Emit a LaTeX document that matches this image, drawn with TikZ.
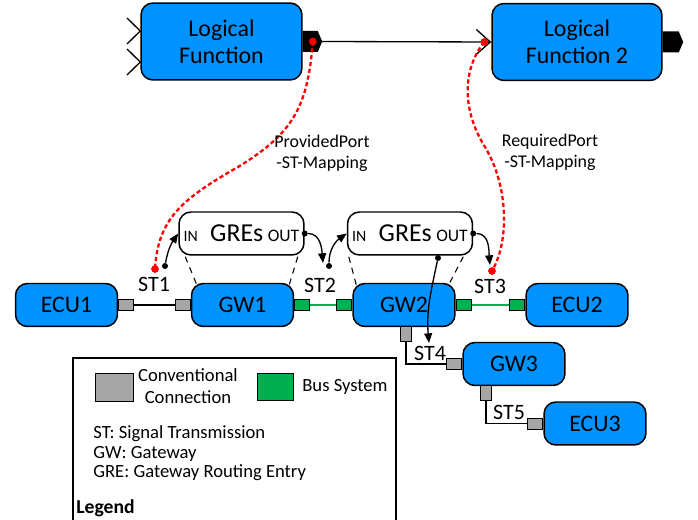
\documentclass[tikz,border=0pt]{standalone}
\usepackage{fontspec}
\setmainfont{Carlito}
\usetikzlibrary{arrows.meta}
\usetikzlibrary{calc}
\definecolor{fnblue}{RGB}{0,146,255}
\definecolor{busgreen}{RGB}{0,176,80}
\definecolor{convgray}{RGB}{166,166,166}

\tikzset{
  unit/.style={draw=black, line width=0.85pt, fill=fnblue, rounded corners=6.8pt,
    minimum width=2.04cm, minimum height=0.86cm, inner sep=0pt,
    font=\fontsize{13.5}{15}\selectfont},
  func/.style={unit, minimum height=1.54cm, align=center,
    font=\fontsize{13.6}{15.3}\selectfont},
  grebox/.style={draw=black, line width=0.85pt, fill=white, rounded corners=6.8pt,
    minimum width=2.5cm, minimum height=0.86cm, inner sep=0pt},
  conv/.style={draw=black, line width=0.5pt, fill=convgray, inner sep=0pt,
    minimum width=0.3cm, minimum height=0.22cm},
  vconv/.style={conv, minimum width=0.22cm, minimum height=0.3cm},
  bus/.style={conv, fill=busgreen},
  bdot/.style={circle, fill=black, inner sep=0pt, minimum size=3.4pt},
  rdot/.style={circle, fill=red, inner sep=0pt, minimum size=4.4pt},
  flow/.style={-{Triangle[length=5.5pt,width=4.5pt]}, line width=0.75pt},
  mapping/.style={red, line width=1.3pt, dash pattern=on 2.4pt off 1.5pt},
  gline/.style={line width=0.6pt, dash pattern=on 3.5pt off 3pt},
  stlabel/.style={font=\fontsize{12.5}{14}\selectfont}
}

\begin{document}
\begin{tikzpicture}[x=0.02cm,y=-0.02cm]
  \useasboundingbox (0,0) rectangle (698,520);

  % The logical functions
  \node[func, minimum width=3.22cm] (lf1) at (221.5,41.5) {Logical\\Function};
  \node[func, minimum width=3.4cm] (lf2) at (577,42) {Logical\\Function 2};
  \draw[line width=0.75pt] (127,18) -- (lf1.west |- 0,31) -- (127,44);
  \draw[line width=0.75pt] (127,49) -- (lf1.west |- 0,62) -- (127,75);
  \fill (lf1.east) ++(0,-10.5) -- ++(15,0) -- ++(4.5,10.5) -- ++(-4.5,10.5) -- ++(-15,0) -- cycle;
  \fill (lf2.east) ++(0,-10.5) -- ++(16,0) -- ++(4.5,10.5) -- ++(-4.5,10.5) -- ++(-16,0) -- cycle;
  \coordinate (p1) at ($(lf1.east)+(19.5,0)$);
  \draw[line width=0.75pt, -{Straight Barb[length=0.28cm,width=0.5cm]}] (p1) -- (lf2.west);

  % The network
  \node[unit] (ecu1) at (66.5,305) {ECU1};
  \node[unit] (gw1) at (242.5,305) {GW1};
  \node[unit] (gw2) at (404,305) {GW2};
  \node[unit] (ecu2) at (577,305) {ECU2};
  \node[unit] (gw3) at (514,364) {GW3};
  \node[unit] (ecu3) at (595,423.5) {ECU3};

  \node[conv, anchor=west] (c1) at (ecu1.east) {};
  \node[conv, anchor=east] (c2) at (gw1.west) {};
  \node[bus, anchor=west] (b1) at (gw1.east) {};
  \node[bus, anchor=east] (b2) at (gw2.west) {};
  \node[bus, anchor=west] (b3) at (gw2.east) {};
  \node[bus, anchor=east] (b4) at (ecu2.west) {};
  \node[vconv, anchor=north] (c3) at (406,326.5) {};
  \node[conv, anchor=east] (c4) at (gw3.west) {};
  \node[vconv, anchor=north] (c5) at (486,385.5) {};
  \node[conv, anchor=east] (c6) at (ecu3.west) {};

  \draw[line width=0.6pt] (c1) -- (c2);
  \draw[busgreen, line width=0.6pt] (b1) -- (b2);
  \draw[busgreen, line width=0.6pt] (b3) -- (b4);
  \draw[line width=0.6pt] (c3.south) |- (c4.west);
  \draw[line width=0.6pt] (c5.south) |- (c6.west);

  % The routing entries
  \node[grebox] (gre1) at (241.5,233.5) {{\fontsize{9}{9}\selectfont IN}\hspace{7pt}{\fontsize{14.7}{15}\selectfont GREs}\hspace{2.6pt}{\fontsize{10}{10}\selectfont OUT}};
  \node[grebox] (gre2) at (410,233.5) {{\fontsize{9}{9}\selectfont IN}\hspace{7pt}{\fontsize{14.7}{15}\selectfont GREs}\hspace{2.6pt}{\fontsize{10}{10}\selectfont OUT}};
  \draw[gline] ($(gre1.south west)+(7,1)$) -- ($(gw1.north west)+(6,2)$);
  \draw[gline] ($(gre1.south east)+(-7,1)$) -- ($(gw1.north east)+(-5,2)$);
  \draw[gline] ($(gre2.south west)+(2,1)$) -- ($(gw2.north west)+(4,2)$);
  \draw[gline] ($(gre2.south east)+(-10,1)$) -- ($(gw2.north east)+(-7,2)$);

  % The signal transmissions
  \node[stlabel] (st1) at (154,284) {ST1};
  \node[stlabel] (st2) at (320,285) {ST2};
  \node[stlabel] (st3) at (490,286) {ST3};
  \node[stlabel] (st4) at (430,353) {ST4};
  \node[stlabel] (st5) at (509,412) {ST5};

  \node[bdot] (d1) at (165,266) {};
  \node[bdot] (o1) at (gre1.east) {};
  \node[bdot] (d2) at (329,266) {};
  \node[bdot] (o2) at (gre2.east) {};
  \node[bdot] (d5) at (438,258) {};
  \coordinate (st2in) at (323,263);
  \coordinate (st3in) at (490,265);
  \coordinate (st4in) at (429,343);
  \draw[flow] (d1) to[out=80,in=235] (gre1.west);
  \draw[flow] (o1) to[out=0,in=95] (st2in);
  \draw[flow] (d2) to[out=90,in=215] (gre2.west);
  \draw[flow] (o2) to[out=0,in=95] (st3in);
  \draw[flow] (d5) to[out=-102,in=95] (st4in);

  % The port mappings
  \node[rdot] (r1) at ($(lf1.east)+(10,0)$) {};
  \node[rdot] (r2) at ($(lf2.west)+(-7,0)$) {};
  \node[rdot] (r3) at (155,269) {};
  \node[rdot] (r4) at (492,271) {};
  \draw[mapping] (r1.center) .. controls (308,110) and (290,135) .. (238,167)
    .. controls (180,200) and (158,220) .. (r3.center);
  \draw[mapping] (r2.center) .. controls (462,70) and (462,110) .. (485,147)
    .. controls (508,185) and (510,240) .. (r4.center);
  \node[align=center, font=\fontsize{10.2}{12}\selectfont] (ppm) at (322,153) {ProvidedPort\\-ST-Mapping};
  \node[align=center, font=\fontsize{10.2}{12}\selectfont] (rpm) at (550,152) {RequiredPort\\-ST-Mapping};

  % The legend
  \draw[line width=0.6pt] (73,521) -- (73,358) -- (396,358) -- (396,521);
  \node[draw=black, line width=0.5pt, fill=convgray, minimum width=0.76cm, minimum height=0.56cm] (lgconv) at (114,387) {};
  \node[draw=black, line width=0.5pt, fill=busgreen, minimum width=0.72cm, minimum height=0.54cm] (lgbus) at (275,386.5) {};
  \node[anchor=north, align=center, inner sep=0pt, font=\fontsize{10.6}{12.5}\selectfont] (lgconvtxt) at (188,368) {Conventional\\Connection};
  \node[anchor=base west, inner sep=0pt, font=\fontsize{10.6}{12}\selectfont] (lgbustxt) at (302,392) {Bus System};
  \node[anchor=north west, align=left, inner sep=0pt, font=\fontsize{10.6}{11.3}\selectfont] (lgabbr) at (93,425) {ST: Signal Transmission\\GW: Gateway\\GRE: Gateway Routing Entry};
  \node[anchor=base west, inner sep=0pt, font=\bfseries\fontsize{11.2}{12}\selectfont] (lgtitle) at (76,514) {Legend};
\end{tikzpicture}
\end{document}
